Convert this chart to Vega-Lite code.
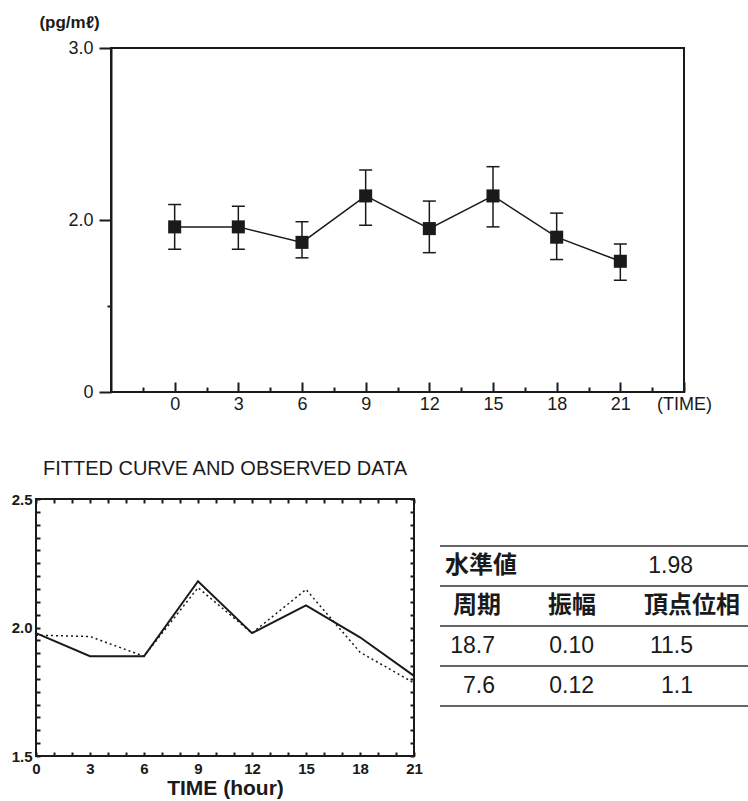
{
  "$schema": "https://vega.github.io/schema/vega-lite/v6.json",
  "padding": {"left": 10, "top": 12, "right": 0, "bottom": 0},
  "background": "white",
  "bounds": "flush",
  "spacing": 451,
  "config": {
    "font": "Liberation Sans",
    "axis": {"domainColor": "#1a1a1a", "domainWidth": 2, "tickColor": "#1a1a1a", "tickWidth": 2, "ticks": true, "tickOpacity": 1, "labelColor": "#1a1a1a", "titleColor": "#1a1a1a", "grid": false, "labelFlush": false, "labelOverlap": false, "labelBound": false},
    "view": {"stroke": "#1a1a1a", "strokeWidth": 2}
  },
  "vconcat": [
    {
      "bounds": "flush",
      "spacing": 0,
      "hconcat": [
        {"width": 75, "height": 10, "view": {"stroke": null}, "data": {"values": []}, "mark": "text"},
        {
          "width": 573,
          "height": 344,
          "data": {"values": [
            {"t": 0, "mean": 1.96, "lo": 1.83, "hi": 2.09},
            {"t": 3, "mean": 1.96, "lo": 1.83, "hi": 2.08},
            {"t": 6, "mean": 1.87, "lo": 1.78, "hi": 1.99},
            {"t": 9, "mean": 2.14, "lo": 1.97, "hi": 2.29},
            {"t": 12, "mean": 1.95, "lo": 1.81, "hi": 2.11},
            {"t": 15, "mean": 2.14, "lo": 1.96, "hi": 2.31},
            {"t": 18, "mean": 1.90, "lo": 1.77, "hi": 2.04},
            {"t": 21, "mean": 1.76, "lo": 1.65, "hi": 1.86}
          ]},
          "layer": [
            {
              "mark": {"type": "rule", "color": "#1a1a1a", "strokeWidth": 1.5},
              "encoding": {
                "x": {"field": "t", "type": "quantitative",
                  "scale": {"domain": [-3, 24], "nice": false, "zero": false},
                  "axis": {
                    "orient": "bottom",
                    "values": [0, 3, 6, 9, 12, 15, 18, 21, 24],
                    "offset": -10,
                    "tickSize": 10,
                    "domain": false,
                    "title": null,
                    "format": "d",
                    "labelExpr": "datum.value == 24 ? '(TIME)' : datum.label",
                    "labelFontSize": 18,
                    "labelBaseline": "middle",
                    "labelPadding": 12
                  }
                },
                "y": {"field": "lo", "type": "quantitative",
                  "scale": {"domain": [1, 3], "nice": false, "zero": false},
                  "axis": {
                    "values": [1, 1.5, 2, 3],
                    "title": "(pg/mℓ)",
                    "titleAngle": 0,
                    "titleX": -42,
                    "titleY": -26,
                    "titleAlign": "center",
                    "titleBaseline": "middle",
                    "titleFontSize": 17,
                    "titleFontWeight": "bold",
                    "labelExpr": "datum.value == 1 ? '0' : (datum.value == 1.5 ? '' : format(datum.value, '.1f'))",
                    "labelFontSize": 18,
                    "labelPadding": 6,
                    "tickSize": {"condition": {"test": "datum.value == 1.5", "value": 4}, "value": 12}
                  }
                },
                "y2": {"field": "hi"}
              }
            },
            {
              "mark": {"type": "tick", "orient": "horizontal", "size": 13, "thickness": 1.5, "color": "#1a1a1a", "opacity": 1},
              "encoding": {
                "x": {"field": "t", "type": "quantitative",
                  "axis": {
                    "orient": "bottom",
                    "values": [-1.5, 1.5, 4.5, 7.5, 10.5, 13.5, 16.5, 19.5, 22.5],
                    "offset": -5,
                    "tickSize": 5,
                    "domain": false,
                    "labels": false,
                    "title": null
                  }
                },
                "y": {"field": "lo", "type": "quantitative"}
              }
            },
            {
              "mark": {"type": "tick", "orient": "horizontal", "size": 13, "thickness": 1.5, "color": "#1a1a1a", "opacity": 1},
              "encoding": {
                "x": {"field": "t", "type": "quantitative", "axis": null},
                "y": {"field": "hi", "type": "quantitative"}
              }
            },
            {
              "mark": {"type": "line", "color": "#1a1a1a", "strokeWidth": 1.5},
              "encoding": {
                "x": {"field": "t", "type": "quantitative", "axis": null},
                "y": {"field": "mean", "type": "quantitative"}
              }
            },
            {
              "mark": {"type": "point", "shape": "square", "filled": true, "size": 170, "color": "#1a1a1a", "opacity": 1},
              "encoding": {
                "x": {"field": "t", "type": "quantitative", "axis": null},
                "y": {"field": "mean", "type": "quantitative"}
              }
            }
          ],
          "resolve": {"axis": {"x": "independent"}}
        }
      ]
    },
    {
      "bounds": "flush",
      "spacing": 26,
      "hconcat": [
        {
          "width": 378,
          "height": 257,
          "title": {"text": "FITTED CURVE AND OBSERVED DATA", "fontSize": 20, "fontWeight": "normal", "offset": 13, "anchor": "middle", "color": "#1a1a1a"},
          "data": {"values": [
            {"t": 0, "fit": 1.978, "obs": 1.970},
            {"t": 3, "fit": 1.888, "obs": 1.965},
            {"t": 6, "fit": 1.888, "obs": 1.888},
            {"t": 9, "fit": 2.180, "obs": 2.155},
            {"t": 12, "fit": 1.978, "obs": 1.978},
            {"t": 15, "fit": 2.086, "obs": 2.148},
            {"t": 18, "fit": 1.962, "obs": 1.904},
            {"t": 21, "fit": 1.812, "obs": 1.784}
          ]},
          "layer": [
            {
              "mark": {"type": "line", "color": "#1a1a1a", "strokeWidth": 2},
              "encoding": {
                "x": {"field": "t", "type": "quantitative",
                  "scale": {"domain": [0, 21], "nice": false, "zero": false},
                  "axis": {
                    "orient": "bottom",
                    "values": [0,1,2,3,4,5,6,7,8,9,10,11,12,13,14,15,16,17,18,19,20,21],
                    "offset": -4,
                    "tickSize": 4,
                    "domain": false,
                    "title": "TIME (hour)",
                    "titleFontSize": 21,
                    "titleFontWeight": "bold",
                    "titleY": 36,
                    "titleBaseline": "middle",
                    "labelExpr": "datum.value % 3 == 0 ? datum.label : ''",
                    "labelFontSize": 15,
                    "labelFontWeight": "bold",
                    "labelBaseline": "middle",
                    "labelPadding": 12
                  }
                },
                "y": {"field": "fit", "type": "quantitative",
                  "scale": {"domain": [1.5, 2.5], "nice": false, "zero": false},
                  "axis": {
                    "orient": "left",
                    "values": [1.5,1.55,1.6,1.65,1.7,1.75,1.8,1.85,1.9,1.95,2.0,2.05,2.1,2.15,2.2,2.25,2.3,2.35,2.4,2.45,2.5],
                    "offset": -4,
                    "tickSize": 4,
                    "domain": false,
                    "title": null,
                    "labelExpr": "abs(datum.value * 2 - round(datum.value * 2)) < 0.001 ? format(datum.value, '.1f') : ''",
                    "labelFontSize": 15,
                    "labelFontWeight": "bold",
                    "labelPadding": 4
                  }
                }
              }
            },
            {
              "mark": {"type": "line", "color": "#1a1a1a", "strokeWidth": 1.5, "strokeDash": [2, 3]},
              "encoding": {
                "x": {"field": "t", "type": "quantitative",
                  "axis": {"orient": "top", "values": [0,1,2,3,4,5,6,7,8,9,10,11,12,13,14,15,16,17,18,19,20,21], "offset": -4, "tickSize": 4, "domain": false, "labels": false, "title": null}
                },
                "y": {"field": "obs", "type": "quantitative",
                  "axis": {"orient": "right", "values": [1.5,1.55,1.6,1.65,1.7,1.75,1.8,1.85,1.9,1.95,2.0,2.05,2.1,2.15,2.2,2.25,2.3,2.35,2.4,2.45,2.5], "offset": -4, "tickSize": 4, "domain": false, "labels": false, "title": null}
                }
              }
            }
          ],
          "resolve": {"axis": {"x": "independent", "y": "independent"}}
        },
        {
          "width": 308,
          "height": 257,
          "view": {"stroke": null},
          "layer": [
            {
              "data": {"values": [{"line": 0}, {"line": 1}, {"line": 2}, {"line": 3}, {"line": 4}]},
              "mark": {"type": "rule", "color": "#333", "strokeWidth": 1.5},
              "encoding": {
                "y": {"field": "line", "type": "quantitative", "scale": {"domain": [-1.175, 5.25], "reverse": true, "nice": false, "zero": false}, "axis": null}
              }
            },
            {
              "data": {"values": [
                {"row": 0.5, "col": -0.04, "label": "水準値"},
                {"row": 1.5, "col": 0.04, "label": "周期"},
                {"row": 1.5, "col": 1, "label": "振幅"},
                {"row": 1.5, "col": 1.97, "label": "頂点位相"}
              ]},
              "mark": {"type": "text", "align": "left", "baseline": "middle", "font": "Noto Sans CJK JP", "fontSize": 24, "fontWeight": "bold", "color": "#1a1a1a"},
              "encoding": {
                "x": {"field": "col", "type": "quantitative", "scale": {"domain": [-0.0909, 3.0202], "nice": false, "zero": false}, "axis": null},
                "y": {"field": "row", "type": "quantitative", "scale": {"domain": [-1.175, 5.25], "reverse": true, "nice": false, "zero": false}, "axis": null},
                "text": {"field": "label"}
              }
            },
            {
              "data": {"values": [
                {"row": 0.5, "col": 2, "label": "1.98"},
                {"row": 2.5, "col": 0, "label": "18.7"},
                {"row": 2.5, "col": 1, "label": "0.10"},
                {"row": 2.5, "col": 2, "label": "11.5"},
                {"row": 3.5, "col": 0, "label": "7.6"},
                {"row": 3.5, "col": 1, "label": "0.12"},
                {"row": 3.5, "col": 2, "label": "1.1"}
              ]},
              "mark": {"type": "text", "align": "right", "dx": 46, "baseline": "middle", "fontSize": 23, "color": "#1a1a1a"},
              "encoding": {
                "x": {"field": "col", "type": "quantitative", "scale": {"domain": [-0.0909, 3.0202], "nice": false, "zero": false}, "axis": null},
                "y": {"field": "row", "type": "quantitative", "scale": {"domain": [-1.175, 5.25], "reverse": true, "nice": false, "zero": false}, "axis": null},
                "text": {"field": "label"}
              }
            }
          ]
        }
      ]
    }
  ]
}
